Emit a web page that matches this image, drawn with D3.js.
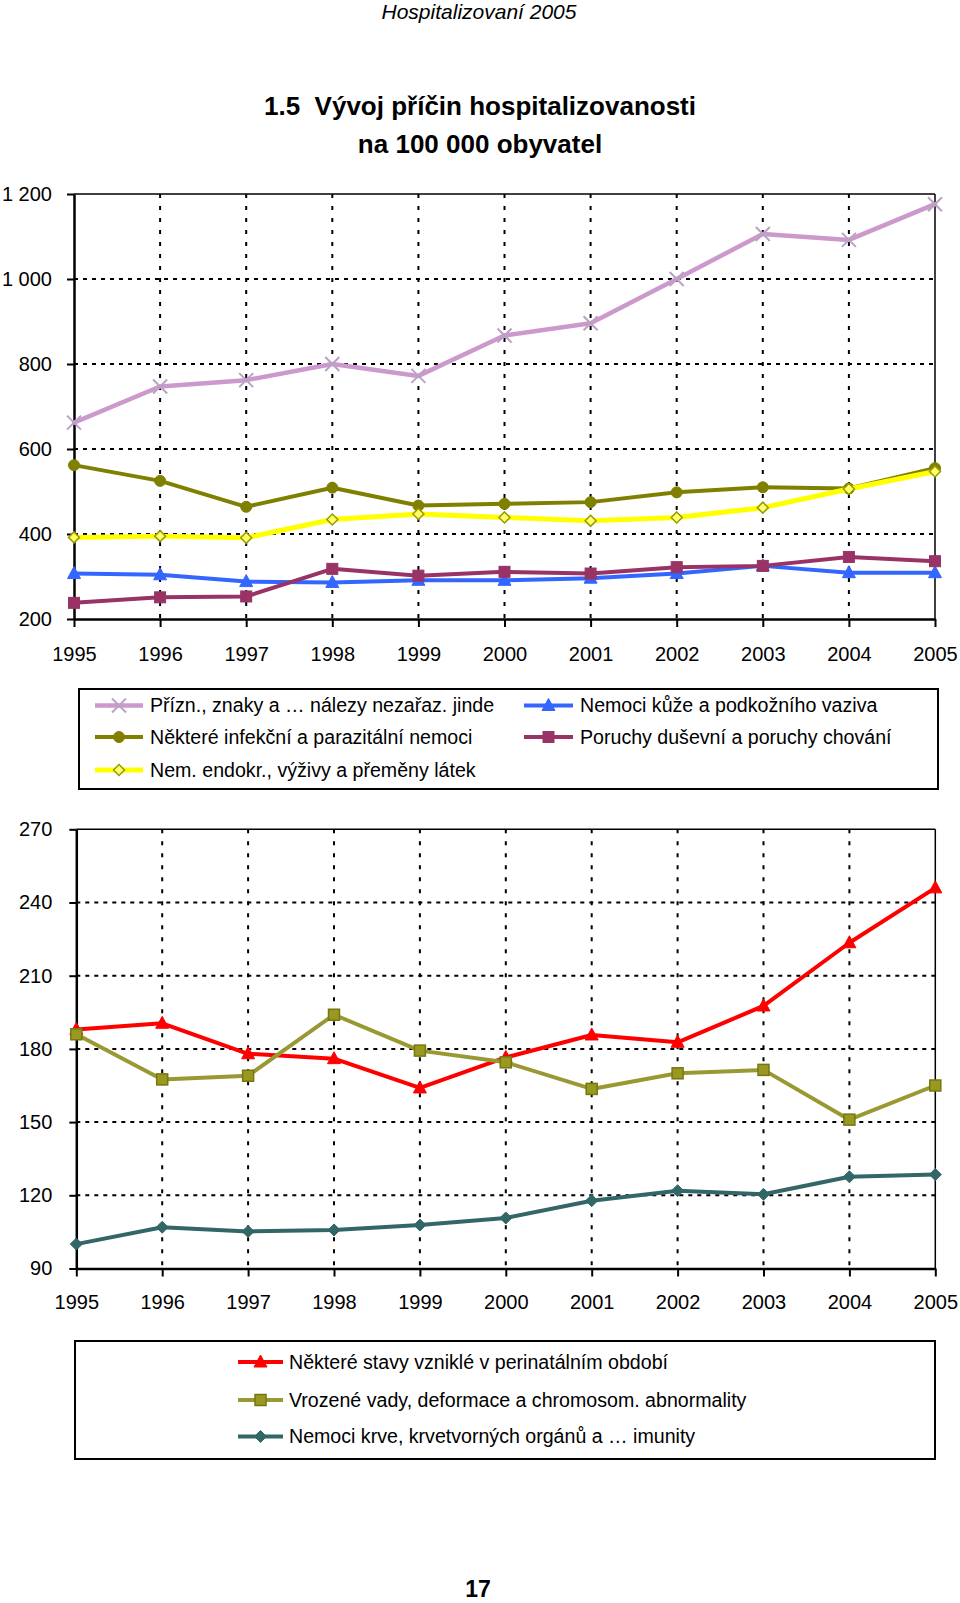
<!DOCTYPE html>
<html><head><meta charset="utf-8">
<script src="https://cdn.jsdelivr.net/npm/d3@7"></script>
<style>
html,body{margin:0;padding:0;background:#fff;}
svg{display:block;}
text{font-family:"Liberation Sans",Arial,sans-serif;fill:#000;}
</style></head><body>
<svg id="c" width="960" height="1603"></svg>
<script>
// ---------- DATA ----------
const years = [1995,1996,1997,1998,1999,2000,2001,2002,2003,2004,2005];
const yTicks1 = [200,400,600,800,1000,1200];
const yTicks2 = [90,120,150,180,210,240,270];

const priznaky = [662,747,762,800,772,867,896,1000,1106,1092,1176];
const kuze     = [307,304,288,286,291,291,296,307,325,309,309];
const infekcni = [562,525,464,509,467,471,475,498,510,507,555];
const dusevni  = [238,251,253,318,302,311,307,322,325,346,336];
const endokr   = [392,395,391,434,447,439,431,439,462,506,547];

const perinatal = [188,190.5,178,176,164,176.5,185.7,182.7,197.6,223.5,246];
const vrozene   = [186,167.5,169,194,179.3,174.5,163.6,170,171.4,151,165];
const krve      = [100,106.9,105.2,105.8,107.8,110.7,117.8,121.9,120.4,127.6,128.5];

const names1 = ["Přízn., znaky a … nálezy nezařaz. jinde","Nemoci kůže a podkožního vaziva","Některé infekční a parazitální nemoci","Poruchy duševní a poruchy chování","Nem. endokr., výživy a přeměny látek"];
const names2 = ["Některé stavy vzniklé v perinatálním období","Vrozené vady, deformace a chromosom. abnormality","Nemoci krve, krvetvorných orgánů a … imunity"];

// ---------- STYLE ----------
const series1 = [
  {name:names1[0], values:priznaky, color:"#CC99CC", marker:"x", mfill:"none", mstroke:"#B9A2C4", width:4.5},
  {name:names1[1], values:kuze, color:"#3366FF", marker:"tri", mfill:"#3366FF", mstroke:"#3366FF", width:4},
  {name:names1[2], values:infekcni, color:"#808000", marker:"circle", mfill:"#808000", mstroke:"#808000", width:4},
  {name:names1[3], values:dusevni, color:"#993366", marker:"square", mfill:"#993366", mstroke:"#993366", width:4},
  {name:names1[4], values:endokr, color:"#FFFF00", marker:"diamond", mfill:"#FFFF66", mstroke:"#999900", width:5}
];
const series2 = [
  {name:names2[0], values:perinatal, color:"#FF0000", marker:"tri", mfill:"#FF0000", mstroke:"#FF0000", width:4},
  {name:names2[1], values:vrozene, color:"#999933", marker:"square2", mfill:"#999922", mstroke:"#777711", width:4},
  {name:names2[2], values:krve, color:"#336666", marker:"diamond2", mfill:"#336666", mstroke:"#336666", width:4}
];

const svg = d3.select("#c");
const fmt = d3.formatLocale({decimal:",",thousands:" ",grouping:[3],currency:["",""]}).format(",");

function marker(g, type, x, y, fill, stroke){
  if(type==="circle"){
    g.append("circle").attr("cx",x).attr("cy",y).attr("r",5.5).attr("fill",fill).attr("stroke",stroke);
  } else if(type==="square"){
    g.append("rect").attr("x",x-5.5).attr("y",y-5.5).attr("width",11).attr("height",11).attr("fill",fill).attr("stroke",stroke);
  } else if(type==="square2"){
    g.append("rect").attr("x",x-5.5).attr("y",y-5.5).attr("width",11).attr("height",11).attr("fill",fill).attr("stroke",stroke).attr("stroke-width",1.5);
  } else if(type==="tri"){
    g.append("path").attr("d",`M${x},${y-7}L${x+6.5},${y+5}L${x-6.5},${y+5}Z`).attr("fill",fill).attr("stroke",stroke);
  } else if(type==="diamond"){
    g.append("path").attr("d",`M${x},${y-5.5}L${x+5.5},${y}L${x},${y+5.5}L${x-5.5},${y}Z`).attr("fill",fill).attr("stroke",stroke).attr("stroke-width",1.5);
  } else if(type==="diamond2"){
    g.append("path").attr("d",`M${x},${y-6}L${x+6},${y}L${x},${y+6}L${x-6},${y}Z`).attr("fill",fill).attr("stroke",stroke);
  } else if(type==="x"){
    g.append("path").attr("d",`M${x-7},${y-7}L${x+7},${y+7}M${x-7},${y+7}L${x+7},${y-7}`).attr("stroke",stroke).attr("stroke-width",2).attr("fill","none");
  }
}

function chart(cfg){
  const {x0,x1,yTop,yBot,domain,ticks,series,labelPad,xPad} = cfg;
  const x = d3.scaleLinear().domain([years[0],years[years.length-1]]).range([x0,x1]);
  const y = d3.scaleLinear().domain(domain).range([yBot,yTop]);
  const g = svg.append("g");
  // grid
  g.append("g").selectAll("line").data(ticks.slice(1,-1)).join("line")
    .attr("x1",x0).attr("x2",x1).attr("y1",d=>y(d)).attr("y2",d=>y(d))
    .attr("stroke","#000").attr("stroke-width",2).attr("stroke-dasharray","4,5");
  g.append("g").selectAll("line").data(years.slice(1,-1)).join("line")
    .attr("x1",d=>x(d)).attr("x2",d=>x(d)).attr("y1",yTop).attr("y2",yBot)
    .attr("stroke","#000").attr("stroke-width",2).attr("stroke-dasharray","4,8");
  // frame top/right
  g.append("line").attr("x1",x0).attr("x2",x1).attr("y1",yTop).attr("y2",yTop).attr("stroke","#000").attr("stroke-width",1.5);
  g.append("line").attr("x1",x1).attr("x2",x1).attr("y1",yTop).attr("y2",yBot).attr("stroke","#000").attr("stroke-width",1.5);
  // axes
  const ay = g.append("g").attr("transform",`translate(${x0},0)`)
    .call(d3.axisLeft(y).tickValues(ticks).tickFormat(fmt).tickSize(7).tickPadding(labelPad).tickSizeOuter(0));
  const ax = g.append("g").attr("transform",`translate(0,${yBot})`)
    .call(d3.axisBottom(x).tickValues(years).tickFormat(d3.format("d")).tickSize(8).tickPadding(xPad).tickSizeOuter(0));
  [ay,ax].forEach(a=>{
    a.select(".domain").attr("stroke","#000").attr("stroke-width",2.5);
    a.selectAll(".tick line").attr("stroke","#000").attr("stroke-width",2);
    a.selectAll(".tick text").attr("font-size",20).attr("fill","#000")
      .attr("font-family",'"Liberation Sans",Arial,sans-serif');
  });
  // series
  series.forEach(s=>{
    const sg = g.append("g");
    sg.append("path").datum(s.values)
      .attr("d",d3.line().x((d,i)=>x(years[i])).y(d=>y(d)))
      .attr("fill","none").attr("stroke",s.color).attr("stroke-width",s.width)
      .attr("stroke-linejoin","round").attr("stroke-linecap","round");
    s.values.forEach((v,i)=>marker(sg,s.marker,x(years[i]),y(v),s.mfill,s.mstroke));
  });
}

function legendEntry(g,s,lx0,lx1,tx,y){
  g.append("line").attr("x1",lx0).attr("x2",lx1).attr("y1",y).attr("y2",y)
    .attr("stroke",s.color).attr("stroke-width",s.width);
  marker(g,s.marker,(lx0+lx1)/2,y,s.mfill,s.mstroke);
  g.append("text").attr("x",tx).attr("y",y).attr("dy","0.35em").attr("font-size",19.6).text(s.name);
}

// ---------- TEXTS ----------
svg.append("text").attr("x",479).attr("y",12).attr("dy","0.35em").attr("text-anchor","middle")
  .attr("font-size",21).attr("font-style","italic").attr("fill","#222").text("Hospitalizovaní 2005");
svg.append("text").attr("x",480).attr("y",106).attr("dy","0.35em").attr("text-anchor","middle")
  .attr("font-size",26).attr("font-weight","bold").style("white-space","pre").text("1.5  Vývoj příčin hospitalizovanosti");
svg.append("text").attr("x",480).attr("y",144).attr("dy","0.35em").attr("text-anchor","middle")
  .attr("font-size",26).attr("font-weight","bold").text("na 100 000 obyvatel");

// ---------- CHART 1 ----------
chart({x0:74,x1:935,yTop:194,yBot:619,domain:[200,1200],ticks:yTicks1,series:series1,labelPad:15,xPad:20});
const lg1 = svg.append("g");
lg1.append("rect").attr("x",79).attr("y",689).attr("width",859).attr("height",100).attr("fill","none").attr("stroke","#000").attr("stroke-width",2);
legendEntry(lg1,series1[0],95,143,150,705.5);
legendEntry(lg1,series1[2],95,143,150,737);
legendEntry(lg1,series1[4],95,143,150,770);
legendEntry(lg1,series1[1],524,573,580,705.5);
legendEntry(lg1,series1[3],524,573,580,737);

// ---------- CHART 2 ----------
chart({x0:76.3,x1:935.3,yTop:829.3,yBot:1268.5,domain:[90,270],ticks:yTicks2,series:series2,labelPad:17,xPad:18});
const lg2 = svg.append("g");
lg2.append("rect").attr("x",75).attr("y",1341).attr("width",860).attr("height",118).attr("fill","none").attr("stroke","#000").attr("stroke-width",2);
legendEntry(lg2,series2[0],238,283,289,1362);
legendEntry(lg2,series2[1],238,283,289,1400);
legendEntry(lg2,series2[2],238,283,289,1436.5);

svg.append("text").attr("x",478).attr("y",1589).attr("dy","0.35em").attr("text-anchor","middle")
  .attr("font-size",23).attr("font-weight","bold").text("17");
</script>
</body></html>
